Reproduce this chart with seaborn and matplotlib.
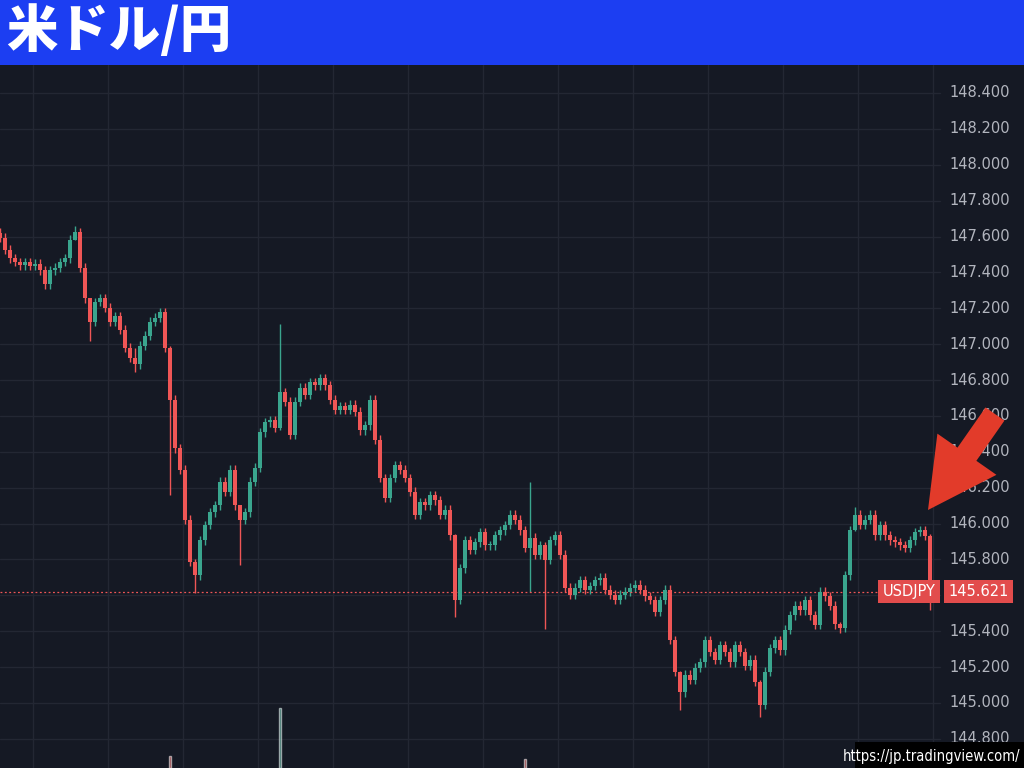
import numpy as np
import pandas as pd
import matplotlib
matplotlib.use("Agg")
import matplotlib.pyplot as plt
import matplotlib.patches as mpatches
from matplotlib.transforms import IdentityTransform, blended_transform_factory
import seaborn as sns

# USD/JPY closes, one candle every ~5 px of the reference
closes = [
    147.592, 147.525, 147.480, 147.458, 147.441, 147.458, 147.436, 147.447, 147.413, 147.335,
    147.413, 147.425, 147.458, 147.480, 147.581, 147.625, 147.425, 147.257, 147.124, 147.235,
    147.257, 147.202, 147.124, 147.157, 147.079, 146.979, 146.923, 146.889, 146.990, 147.046,
    147.124, 147.146, 147.179, 146.979, 146.689, 146.421, 146.299, 146.020, 145.786, 145.713,
    145.908, 145.992, 146.064, 146.103, 146.232, 146.176, 146.299, 146.103, 146.020, 146.064,
    146.232, 146.310, 146.510, 146.566, 146.577, 146.533, 146.733, 146.678, 146.494, 146.678,
    146.756, 146.717, 146.789, 146.772, 146.811, 146.772, 146.689, 146.633, 146.655, 146.633,
    146.661, 146.622, 146.521, 146.549, 146.689, 146.466, 146.254, 146.143, 146.254, 146.326,
    146.299, 146.254, 146.176, 146.048, 146.120, 146.103, 146.159, 146.131, 146.048, 146.076,
    145.936, 145.574, 145.752, 145.908, 145.853, 145.897, 145.953, 145.880, 145.880, 145.936,
    145.964, 145.992, 146.048, 146.020, 145.964, 145.864, 145.920, 145.825, 145.880, 145.797,
    145.908, 145.936, 145.825, 145.641, 145.602, 145.641, 145.685, 145.630, 145.652, 145.685,
    145.697, 145.630, 145.602, 145.574, 145.602, 145.619, 145.641, 145.658, 145.630, 145.596,
    145.574, 145.507, 145.574, 145.630, 145.351, 145.173, 145.061, 145.156, 145.128, 145.195,
    145.228, 145.351, 145.284, 145.240, 145.323, 145.284, 145.228, 145.323, 145.284, 145.206,
    145.240, 145.117, 144.989, 145.173, 145.306, 145.351, 145.295, 145.407, 145.490, 145.541,
    145.518, 145.574, 145.490, 145.435, 145.619, 145.596, 145.541, 145.440, 145.418, 145.713,
    145.964, 146.048, 145.992, 146.020, 146.048, 145.936, 145.992, 145.936, 145.908, 145.897,
    145.880, 145.864, 145.908, 145.953, 145.964, 145.931, 145.621,
]
first_open = 147.620
wick = 0.025

# candles with long wicks: index -> (high, low)
spikes = {
    15: (147.660, 147.580), 18: (147.200, 147.020), 27: (146.980, 146.845),
    34: (146.990, 146.160), 39: (145.800, 145.615), 48: (146.070, 145.770),
    56: (147.110, 146.520), 91: (145.940, 145.480), 106: (146.230, 145.620),
    109: (145.900, 145.410), 136: (145.180, 144.960), 152: (145.130, 144.920),
    168: (145.450, 145.390), 171: (146.090, 145.960), 186: (145.940, 145.520),
}

# volume spikes peeking above the bottom edge
vol_idx = [34, 56, 105]
vol_val = [7, 34, 5]

last_price = 145.621
price_ticks = [144.8, 145.0, 145.2, 145.4, 145.6, 145.8, 146.0, 146.2, 146.4,
               146.6, 146.8, 147.0, 147.2, 147.4, 147.6, 147.8, 148.0, 148.2, 148.4]

BG = "#151924"
GRID = "#232733"
UP = "#3aa58e"
DOWN = "#ef5656"

sns.set_theme(style="dark")
plt.rcParams["font.family"] = ["Noto Sans CJK JP", "DejaVu Sans"]

df = pd.DataFrame({"close": closes})
df["open"] = [first_open] + closes[:-1]
df["high"] = df[["open", "close"]].max(axis=1) + wick
df["low"] = df[["open", "close"]].min(axis=1) - wick
for i, (h, l) in spikes.items():
    df.loc[i, "high"] = h
    df.loc[i, "low"] = l
df["x"] = np.arange(len(df))
df["up"] = df["close"] >= df["open"]

fig = plt.figure(figsize=(10.24, 7.68), dpi=100)
fig.patch.set_facecolor(BG)
ax = fig.add_axes([0, 0, 1, 703 / 768])
ax.set_facecolor(BG)
ax.set_xlim(0, 1024 / 5)
ax.set_ylim(144.6375, 148.556)
for s in ax.spines.values():
    s.set_visible(False)
ax.set_xticks([])
ax.set_yticks([])

# grid
for p in price_ticks:
    ax.axhline(p, xmin=0, xmax=940 / 1024, color=GRID, lw=1, zorder=0)
for k in range(13):
    ax.axvline(6.6 + 15 * k, color=GRID, lw=1, zorder=0)

# volume
vax = ax.twinx()
vax.set_ylim(0, 400)
vax.set_axis_off()
vcol = [UP if df.loc[i, "up"] else DOWN for i in vol_idx]
vax.bar(vol_idx, vol_val, width=0.25, color=vcol, alpha=0.55, zorder=1)

# candles
colors = np.where(df["up"], UP, DOWN)
ax.vlines(df["x"], df["low"], df["high"], colors=colors, lw=1.0, zorder=2)
body = (df["close"] - df["open"]).abs().clip(lower=0.006)
ax.bar(df["x"], body, bottom=df[["open", "close"]].min(axis=1), width=0.75,
       color=colors, linewidth=0, zorder=3)

# last price line + labels
ax.plot([0, 878 / 5], [last_price, last_price], color=DOWN, lw=0.9,
        ls=(0, (1.5, 2)), zorder=2)
ax.text(909 / 5, last_price, "USDJPY", color="white", fontsize=10.5,
        family=["DejaVu Sans"], ha="center", va="center", zorder=6,
        bbox=dict(boxstyle="square,pad=0.3", fc="#e24c4c", ec="none"))
ax.text(978.5 / 5, last_price, f"{last_price:.3f}", color="white", fontsize=10.5,
        family=["DejaVu Sans"], ha="center", va="center", zorder=6,
        bbox=dict(boxstyle="square,pad=0.3", fc="#e24c4c", ec="none"))

# price scale labels
tr = blended_transform_factory(ax.transAxes, ax.transData)
for p in price_ticks:
    if abs(p - 145.6) < 1e-6:
        continue
    ax.text(1010 / 1024, p, f"{p:.3f}", transform=tr, ha="right", va="center",
            color="#b2b5be", fontsize=10.5, family=["DejaVu Sans"], zorder=4)

# title bar
fig.patches.append(mpatches.Rectangle((0, 703 / 768), 1, 65 / 768,
                                      transform=fig.transFigure, fc="#1c3ef2",
                                      ec="none", zorder=0))
fig.text(6 / 1024, 1 - 32 / 768, "米ドル/円", color="white", fontsize=37,
         fontweight="heavy", ha="left", va="center")

# red arrow pointing at the last candle
tip = np.array([928, 768 - 510])
tail = np.array([995, 768 - 414])
d = tip - tail
arrow = mpatches.FancyArrow(tail[0], tail[1], d[0], d[1], width=23,
                            head_width=72, head_length=68,
                            length_includes_head=True, fc="#e23b2a",
                            ec="none", transform=IdentityTransform(), zorder=10)
fig.add_artist(arrow)

# source note
fig.patches.append(mpatches.Rectangle((855 / 1024, 0), 169 / 1024, 26 / 768,
                                      transform=fig.transFigure, fc="black",
                                      ec="none", zorder=11))
fig.text(1020 / 1024, 12 / 768, "https://jp.tradingview.com/", color="white",
         fontsize=10.5, family=["DejaVu Sans"], fontstretch="condensed",
         ha="right", va="center", zorder=12)

fig.savefig("out.png", dpi=100, facecolor=BG)
